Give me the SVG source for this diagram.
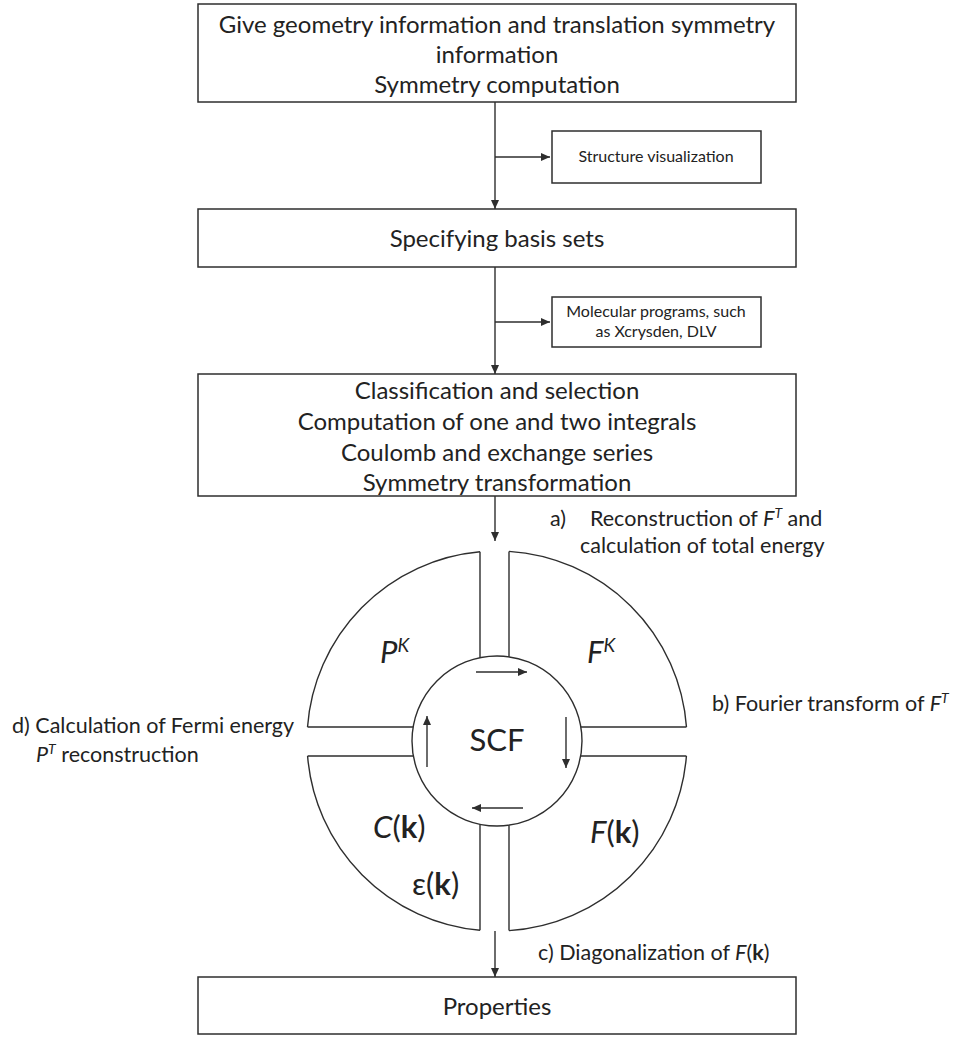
<svg xmlns="http://www.w3.org/2000/svg" width="954" height="1037" viewBox="0 0 954 1037">
<style>
  .box { fill: #ffffff; stroke: #2e2e2e; stroke-width: 1.5; }
  .ln { fill: none; stroke: #2e2e2e; stroke-width: 1.4; }
  .t { font-family: Lato, "Liberation Sans", sans-serif; fill: #222222; }
  .bt { font-size: 24px; text-anchor: middle; }
  .st { font-size: 16px; text-anchor: middle; }
  .lb { font-size: 21.5px; }
  .big { font-size: 31px; }
  .it { font-style: italic; }
  .bd { font-weight: bold; }
</style>
<defs>
  <marker id="ah" markerUnits="userSpaceOnUse" markerWidth="9" markerHeight="8" refX="9" refY="4" orient="auto">
    <path d="M0,0 L9,4 L0,8 z" fill="#2e2e2e"/>
  </marker>
</defs>
<rect width="954" height="1037" fill="#ffffff"/>

<g id="connectors">
  <line class="ln" x1="495" y1="102" x2="495" y2="209" marker-end="url(#ah)"/>
  <line class="ln" x1="495" y1="157" x2="550" y2="157" marker-end="url(#ah)"/>
  <line class="ln" x1="495" y1="267" x2="495" y2="374" marker-end="url(#ah)"/>
  <line class="ln" x1="495" y1="322" x2="550" y2="322" marker-end="url(#ah)"/>
  <line class="ln" x1="495" y1="496" x2="495" y2="541" marker-end="url(#ah)"/>
  <line class="ln" x1="495" y1="931" x2="495" y2="977" marker-end="url(#ah)"/>
</g>

<g id="node-geometry">
  <rect class="box" x="198" y="4" width="598" height="98"/>
  <text class="t bt" x="497" y="33">Give geometry information and translation symmetry</text>
  <text class="t bt" x="497" y="63">information</text>
  <text class="t bt" x="497" y="93">Symmetry computation</text>
</g>

<g id="node-structure">
  <rect class="box" x="552" y="131" width="209" height="52"/>
  <text class="t st" x="656" y="162">Structure visualization</text>
</g>

<g id="node-basis">
  <rect class="box" x="198" y="209" width="598" height="58"/>
  <text class="t bt" x="497" y="247">Specifying basis sets</text>
</g>

<g id="node-molecular">
  <rect class="box" x="552" y="297" width="209" height="50"/>
  <text class="t st" x="656" y="317">Molecular programs, such</text>
  <text class="t st" x="656" y="337">as Xcrysden, DLV</text>
</g>

<g id="node-integrals">
  <rect class="box" x="198" y="374" width="598" height="122"/>
  <text class="t bt" x="497" y="399">Classification and selection</text>
  <text class="t bt" x="497" y="430">Computation of one and two integrals</text>
  <text class="t bt" x="497" y="461">Coulomb and exchange series</text>
  <text class="t bt" x="497" y="491">Symmetry transformation</text>
</g>

<g id="node-scf-cycle">
  <path class="ln" d="M509,551.38 A190,190 0 0 1 686.48,727"/>
  <path class="ln" d="M686.41,756 A190,190 0 0 1 509,930.62"/>
  <path class="ln" d="M480,930.24 A190,190 0 0 1 307.59,756"/>
  <path class="ln" d="M307.52,727 A190,190 0 0 1 480,551.76"/>
  <path class="ln" d="M480,551.76 V657.72 M509,551.38 V656.85 M480,824.28 V930.24 M509,825.15 V930.62 M307.52,727 H413.16 M307.59,756 H413.33 M580.84,727 H686.48 M580.67,756 H686.41"/>
  <circle class="ln" cx="497" cy="741" r="85"/>
  <line class="ln" x1="476" y1="672" x2="527" y2="672" marker-end="url(#ah)"/>
  <line class="ln" x1="566" y1="717" x2="566" y2="768" marker-end="url(#ah)"/>
  <line class="ln" x1="523" y1="808" x2="472" y2="808" marker-end="url(#ah)"/>
  <line class="ln" x1="427" y1="767" x2="427" y2="716" marker-end="url(#ah)"/>
  <text class="t big" x="497" y="751" text-anchor="middle">SCF</text>
  <text class="t big it" x="380" y="663">P<tspan font-size="19" dy="-11">K</tspan></text>
  <text class="t big it" x="587" y="663">F<tspan font-size="19" dy="-11">K</tspan></text>
  <text class="t big" x="373" y="838"><tspan class="it">C</tspan>(<tspan class="bd">k</tspan>)</text>
  <text class="t big" x="590" y="843"><tspan class="it">F</tspan>(<tspan class="bd">k</tspan>)</text>
  <text class="t big" x="412" y="895">ε(<tspan class="bd">k</tspan>)</text>
</g>

<g id="labels">
  <text class="t lb" x="550" y="526">a)</text>
  <text class="t lb" x="590" y="526">Reconstruction of <tspan class="it">F</tspan><tspan class="it" font-size="14" dy="-8">T</tspan><tspan dy="8"> and</tspan></text>
  <text class="t lb" x="580" y="553">calculation of total energy</text>
  <text class="t lb" x="712" y="711">b) Fourier transform of <tspan class="it">F</tspan><tspan class="it" font-size="14" dy="-8">T</tspan></text>
  <text class="t lb" x="538" y="960">c) Diagonalization of <tspan class="it">F</tspan>(<tspan class="bd">k</tspan>)</text>
  <text class="t lb" x="12" y="733">d) Calculation of Fermi energy</text>
  <text class="t lb" x="36" y="762"><tspan class="it">P</tspan><tspan class="it" font-size="14" dy="-8">T</tspan><tspan dy="8"> reconstruction</tspan></text>
</g>

<g id="node-properties">
  <rect class="box" x="198" y="977" width="598" height="57"/>
  <text class="t bt" x="497" y="1015">Properties</text>
</g>
</svg>
